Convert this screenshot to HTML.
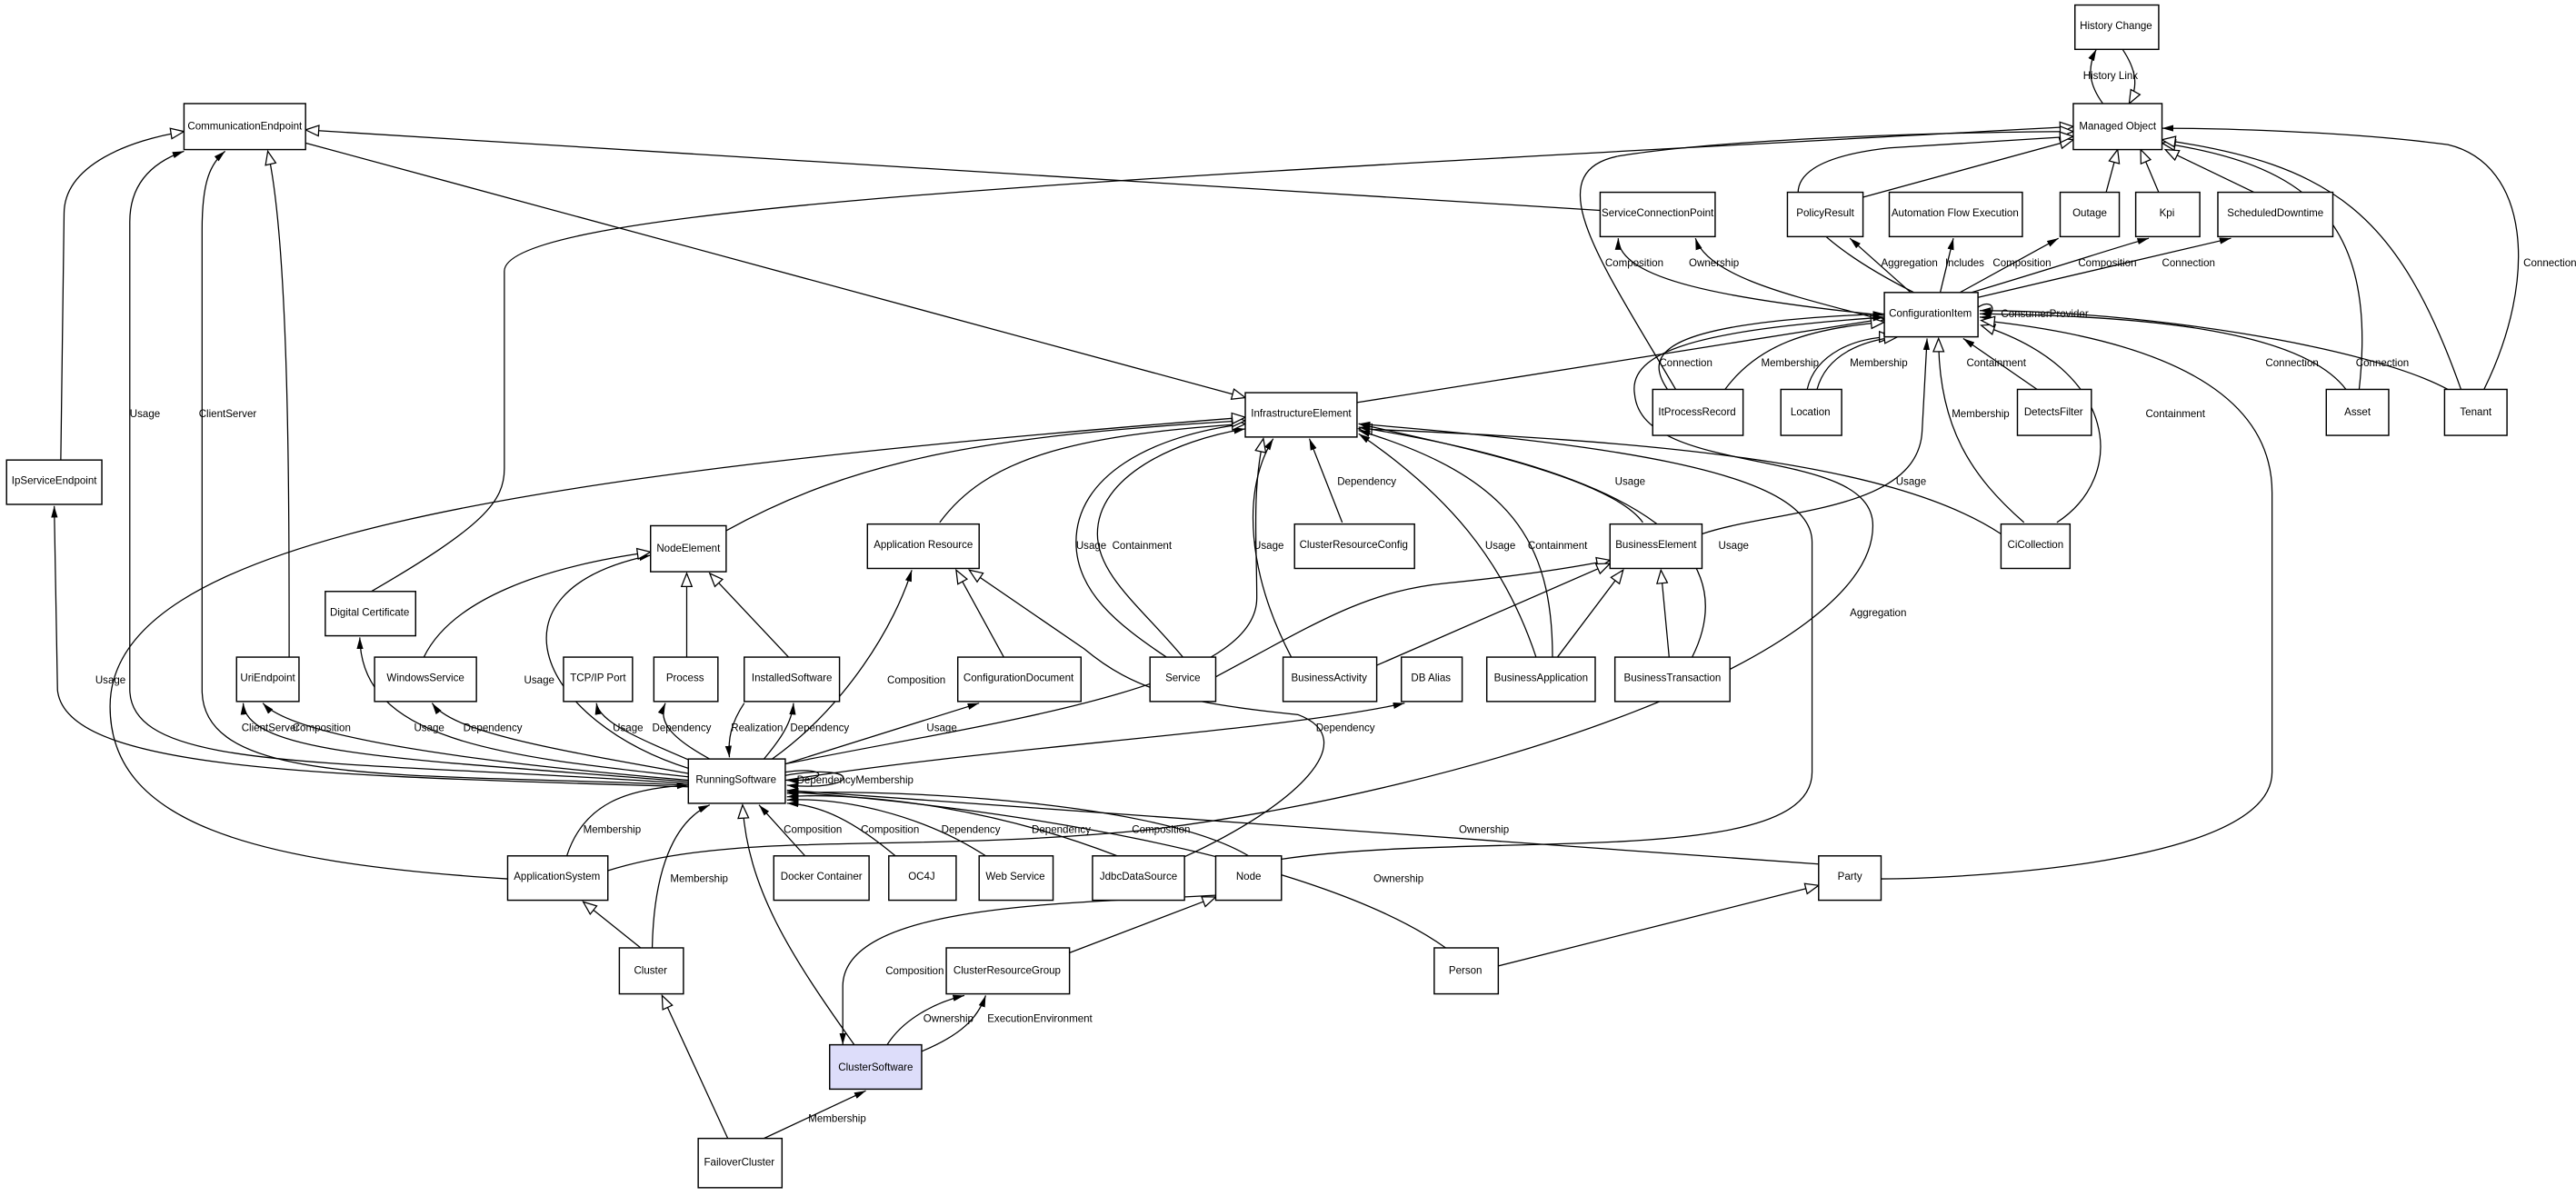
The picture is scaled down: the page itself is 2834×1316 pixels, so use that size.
<!DOCTYPE html>
<html><head><meta charset="utf-8"><style>
html,body{margin:0;padding:0;background:#fff;}
svg{display:block}
text{font-family:"Liberation Sans",Arial,sans-serif;font-size:6.4px;fill:#000}
.n text{text-anchor:middle;dominant-baseline:central}
.e{fill:none;stroke:#000;stroke-width:0.7}
.f{marker-end:url(#fa)}
.h{marker-end:url(#ha)}
</style></head><body>
<svg width="2834" height="1316" viewBox="0 0 1568 728" xmlns="http://www.w3.org/2000/svg">
<defs>
<marker id="fa" markerWidth="8" markerHeight="6" refX="7" refY="3" orient="auto" markerUnits="userSpaceOnUse"><path d="M0,1 L7,3 L0,5 z" fill="#000"/></marker>
<marker id="ha" markerWidth="10" markerHeight="8" refX="8.5" refY="4" orient="auto" markerUnits="userSpaceOnUse"><path d="M0.5,0.8 L8.5,4 L0.5,7.2 z" fill="#fff" stroke="#000" stroke-width="0.7"/></marker>
</defs>
<rect width="1568" height="728" fill="#fff"/>
<g class="e">
<!-- Managed Object region -->
<path class="f" d="M1280,63 C1272,52 1270,42 1276,30"/>
<path class="h" d="M1292,30 C1300,42 1302,52 1296,63"/>
<path class="h" d="M974,128 L186,79"/>
<path class="h" d="M186,87 L758,242"/>
<path class="h" d="M226,360 C295,320 307,305 307,285 L307,165 C307,125 700,108 1262,77"/>
<path class="h" d="M1020,237 C975,160 935,105 985,95 C1050,84 1200,80 1262,80"/>
<path class="h" d="M1134,120 L1262,85"/>
<path class="h" d="M1165,178 C1090,140 1060,100 1150,90 L1262,83"/>
<path class="h" d="M1282,117 L1289,91"/>
<path class="h" d="M1314,117 L1303,91"/>
<path class="h" d="M1372,117 L1318,91"/>
<path class="h" d="M1436,237 C1448,130 1400,100 1316,87"/>
<path class="h" d="M1498,237 C1460,130 1420,100 1316,85"/>
<path class="f" d="M1512,237 C1545,170 1540,100 1490,88 C1430,80 1350,78 1316,78"/>
<!-- CI upward -->
<path class="f" d="M1147,192 C1050,182 985,170 985,145"/>
<path class="f" d="M1147,195 C1100,182 1040,170 1032,145"/>
<path class="f" d="M1163,178 L1126,145"/>
<path class="f" d="M1181,178 L1189,145"/>
<path class="f" d="M1193,178 L1253,145"/>
<path class="f" d="M1200,178 C1260,160 1290,150 1308,145"/>
<path class="f" d="M1204,181 L1358,145"/>
<path class="f" d="M1204,187 C1215,180 1216,194 1205,193"/>
<path class="h" d="M826,245 L1147,194"/>
<!-- into CI from below -->
<path class="f" d="M1015,237 C1000,215 1010,196 1147,191"/>
<path class="h" d="M1050,237 C1070,210 1100,200 1147,196"/>
<path class="h" d="M1100,237 C1105,215 1130,205 1152,205"/>
<path class="h" d="M1106,237 C1112,215 1135,207 1155,205"/>
<path class="f" d="M1240,237 L1195,206"/>
<path class="h" d="M1232,318 C1200,290 1180,260 1180,206"/>
<path class="h" d="M1252,318 C1295,290 1290,225 1206,198"/>
<path class="f" d="M1428,237 C1400,200 1300,192 1205,191"/>
<path class="f" d="M1490,237 C1440,210 1300,189 1205,189"/>
<path class="h" d="M1145,535 C1170,535 1383,530 1383,470 L1383,300 C1383,232 1300,205 1206,195"/>
<path class="f" d="M370,530 C450,505 550,520 700,505 C900,480 1140,400 1140,320 C1140,270 1000,292 995,240 C990,210 1050,200 1147,193"/>
<path class="f" d="M1036,325 C1080,310 1168,312 1170,262 L1173,206"/>
<!-- into IE -->
<path class="f" d="M780,523 C900,505 1103,530 1103,470 L1103,330 C1103,290 1000,272 827,258"/>
<path class="h" d="M1218,325 C1150,280 1000,268 827,261"/>
<path class="f" d="M710,400 C680,380 655,360 655,330 C655,290 700,265 758,258"/>
<path class="f" d="M720,400 C695,370 668,350 668,325 C668,290 715,268 758,261"/>
<path class="f" d="M786,400 C760,350 755,300 775,267"/>
<path class="f" d="M817,318 L797,267"/>
<path class="f" d="M935,400 C915,340 880,300 827,264"/>
<path class="f" d="M945,400 C945,330 920,290 827,262"/>
<path class="f" d="M1000,318 C980,290 880,270 827,258"/>
<path class="f" d="M1030,400 C1060,340 1010,290 827,260"/>
<path class="h" d="M572,318 C600,280 650,265 758,258"/>
<path class="h" d="M442,323 C520,280 600,265 758,256"/>
<path class="h" d="M309,535 C150,525 67,500 67,430 C67,330 300,290 758,254"/>
<path class="h" d="M478,465 C600,440 765,420 765,364 C765,330 762,300 769,267"/>
<!-- business element -->
<path class="h" d="M740,412 C800,380 830,360 880,355 C930,350 960,345 980,341"/>
<path class="h" d="M838,405 L980,343"/>
<path class="h" d="M948,400 L988,347"/>
<path class="h" d="M1016,400 L1011,347"/>
<path class="h" d="M720,522 C790,490 830,450 790,435 C720,428 690,420 660,395 L590,347"/>
<path class="h" d="M611,400 L582,347"/>
<!-- from running software up -->
<path class="f" d="M478,475 C600,455 780,445 855,428"/>
<path class="f" d="M478,465 L596,428"/>
<path class="f" d="M470,462 C515,430 545,380 555,347"/>
<path class="f" d="M465,462 C475,450 482,440 483,428"/>
<path class="f" d="M453,428 C445,440 443,450 444,461"/>
<path class="f" d="M432,462 C410,450 400,440 405,428"/>
<path class="f" d="M425,465 C390,450 365,440 363,428"/>
<path class="f" d="M420,468 C330,440 290,360 396,338"/>
<path class="h" d="M480,400 L432,349"/>
<path class="h" d="M418,400 L418,349"/>
<path class="h" d="M258,400 C275,365 330,345 396,336"/>
<path class="f" d="M420,471 C330,455 275,445 263,428"/>
<path class="f" d="M420,473 C300,460 220,450 219,388"/>
<path class="f" d="M420,476 C250,462 150,460 148,428"/>
<path class="f" d="M420,475 C300,465 180,450 160,428"/>
<path class="h" d="M176,400 C176,300 176,150 163,92"/>
<path class="f" d="M420,477 C200,462 80,470 79,420 L79,135 C79,110 95,98 112,92"/>
<path class="f" d="M420,478 C250,470 123,480 123,420 L123,140 C123,110 128,100 137,92"/>
<path class="h" d="M37,280 L39,130 C39,100 80,85 112,80"/>
<path class="f" d="M420,479 C200,472 40,470 35,420 L33,308"/>
<!-- lower -->
<path class="f" d="M345,521 C355,490 380,480 419,478"/>
<path class="f" d="M397,577 C398,530 410,500 432,490"/>
<path class="h" d="M390,577 L355,549"/>
<path class="h" d="M443,693 L403,606"/>
<path class="f" d="M465,693 L527,664"/>
<path class="h" d="M520,636 C480,580 455,540 452,490"/>
<path class="f" d="M540,636 C550,620 570,610 587,606"/>
<path class="f" d="M561,640 C585,630 595,620 600,606"/>
<path class="f" d="M740,545 C650,550 514,550 513,600 L513,636"/>
<path class="h" d="M651,580 L740,546"/>
<path class="f" d="M490,521 L462,490"/>
<path class="f" d="M545,521 C520,500 500,490 479,489"/>
<path class="f" d="M600,521 C560,495 510,485 479,487"/>
<path class="f" d="M680,521 C600,490 520,482 479,485"/>
<path class="f" d="M760,521 C700,485 520,480 479,483"/>
<path class="f" d="M1107,526 L479,481"/>
<path class="f" d="M880,577 C800,520 600,490 479,482"/>
<path class="h" d="M912,588 L1107,539"/>
<path class="f" d="M478,470 C505,466 505,476 479,475"/>
<path class="f" d="M478,472 C525,464 525,482 479,478"/>
</g>
<g class="n" fill="#fff" stroke="#000" stroke-width="0.8">
<rect x="1263" y="3" width="51" height="27"/>
<rect x="1262" y="63" width="54" height="28"/>
<rect x="112" y="63" width="74" height="28"/>
<rect x="974" y="117" width="70" height="27"/>
<rect x="1088" y="117" width="46" height="27"/>
<rect x="1150" y="117" width="81" height="27"/>
<rect x="1254" y="117" width="36" height="27"/>
<rect x="1300" y="117" width="39" height="27"/>
<rect x="1350" y="117" width="70" height="27"/>
<rect x="1147" y="178" width="57" height="27"/>
<rect x="758" y="239" width="68" height="27"/>
<rect x="1006" y="237" width="55" height="28"/>
<rect x="1084" y="237" width="37" height="28"/>
<rect x="1228" y="237" width="45" height="28"/>
<rect x="1416" y="237" width="38" height="28"/>
<rect x="1488" y="237" width="38" height="28"/>
<rect x="4" y="280" width="58" height="27"/>
<rect x="396" y="320" width="46" height="28"/>
<rect x="528" y="319" width="68" height="27"/>
<rect x="788" y="319" width="73" height="27"/>
<rect x="980" y="319" width="56" height="27"/>
<rect x="1218" y="319" width="42" height="27"/>
<rect x="198" y="360" width="55" height="27"/>
<rect x="144" y="400" width="38" height="27"/>
<rect x="228" y="400" width="62" height="27"/>
<rect x="343" y="400" width="42" height="27"/>
<rect x="398" y="400" width="39" height="27"/>
<rect x="453" y="400" width="58" height="27"/>
<rect x="583" y="400" width="75" height="27"/>
<rect x="700" y="400" width="40" height="27"/>
<rect x="781" y="400" width="57" height="27"/>
<rect x="853" y="400" width="37" height="27"/>
<rect x="905" y="400" width="66" height="27"/>
<rect x="983" y="400" width="70" height="27"/>
<rect x="419" y="462" width="59" height="27"/>
<rect x="309" y="521" width="61" height="27"/>
<rect x="471" y="521" width="58" height="27"/>
<rect x="541" y="521" width="41" height="27"/>
<rect x="596" y="521" width="45" height="27"/>
<rect x="665" y="521" width="56" height="27"/>
<rect x="740" y="521" width="40" height="27"/>
<rect x="1107" y="521" width="38" height="27"/>
<rect x="377" y="577" width="39" height="28"/>
<rect x="576" y="577" width="75" height="28"/>
<rect x="873" y="577" width="39" height="28"/>
<rect x="505" y="636" width="56" height="27" fill="#ddddfa"/>
<rect x="425" y="693" width="51" height="30"/>
</g>
<g class="n">
<text x="1288" y="16">History Change</text>
<text x="1289" y="77">Managed Object</text>
<text x="149" y="77">CommunicationEndpoint</text>
<text x="1009" y="130">ServiceConnectionPoint</text>
<text x="1111" y="130">PolicyResult</text>
<text x="1190" y="130">Automation Flow Execution</text>
<text x="1272" y="130">Outage</text>
<text x="1319" y="130">Kpi</text>
<text x="1385" y="130">ScheduledDowntime</text>
<text x="1175" y="191">ConfigurationItem</text>
<text x="792" y="252">InfrastructureElement</text>
<text x="1033" y="251">ItProcessRecord</text>
<text x="1102" y="251">Location</text>
<text x="1250" y="251">DetectsFilter</text>
<text x="1435" y="251">Asset</text>
<text x="1507" y="251">Tenant</text>
<text x="33" y="293">IpServiceEndpoint</text>
<text x="419" y="334">NodeElement</text>
<text x="562" y="332">Application Resource</text>
<text x="824" y="332">ClusterResourceConfig</text>
<text x="1008" y="332">BusinessElement</text>
<text x="1239" y="332">CiCollection</text>
<text x="225" y="373">Digital Certificate</text>
<text x="163" y="413">UriEndpoint</text>
<text x="259" y="413">WindowsService</text>
<text x="364" y="413">TCP/IP Port</text>
<text x="417" y="413">Process</text>
<text x="482" y="413">InstalledSoftware</text>
<text x="620" y="413">ConfigurationDocument</text>
<text x="720" y="413">Service</text>
<text x="809" y="413">BusinessActivity</text>
<text x="871" y="413">DB Alias</text>
<text x="938" y="413">BusinessApplication</text>
<text x="1018" y="413">BusinessTransaction</text>
<text x="448" y="475">RunningSoftware</text>
<text x="339" y="534">ApplicationSystem</text>
<text x="500" y="534">Docker Container</text>
<text x="561" y="534">OC4J</text>
<text x="618" y="534">Web Service</text>
<text x="693" y="534">JdbcDataSource</text>
<text x="760" y="534">Node</text>
<text x="1126" y="534">Party</text>
<text x="396" y="591">Cluster</text>
<text x="613" y="591">ClusterResourceGroup</text>
<text x="892" y="591">Person</text>
<text x="533" y="650">ClusterSoftware</text>
<text x="450" y="708">FailoverCluster</text>
</g>
<g>
<text x="1268" y="48">History Link</text>
<text x="977" y="162">Composition</text>
<text x="1028" y="162">Ownership</text>
<text x="1145" y="162">Aggregation</text>
<text x="1184" y="162">Includes</text>
<text x="1213" y="162">Composition</text>
<text x="1265" y="162">Composition</text>
<text x="1316" y="162">Connection</text>
<text x="1536" y="162">Connection</text>
<text x="1218" y="193">ConsumerProvider</text>
<text x="1010" y="223">Connection</text>
<text x="1072" y="223">Membership</text>
<text x="1126" y="223">Membership</text>
<text x="1197" y="223">Containment</text>
<text x="1379" y="223">Connection</text>
<text x="1434" y="223">Connection</text>
<text x="79" y="254">Usage</text>
<text x="121" y="254">ClientServer</text>
<text x="1188" y="254">Membership</text>
<text x="1306" y="254">Containment</text>
<text x="814" y="295">Dependency</text>
<text x="983" y="295">Usage</text>
<text x="1154" y="295">Usage</text>
<text x="655" y="334">Usage</text>
<text x="677" y="334">Containment</text>
<text x="763" y="334">Usage</text>
<text x="904" y="334">Usage</text>
<text x="930" y="334">Containment</text>
<text x="1046" y="334">Usage</text>
<text x="1126" y="375">Aggregation</text>
<text x="58" y="416">Usage</text>
<text x="319" y="416">Usage</text>
<text x="540" y="416">Composition</text>
<text x="147" y="445">ClientServer</text>
<text x="178" y="445">Composition</text>
<text x="252" y="445">Usage</text>
<text x="282" y="445">Dependency</text>
<text x="373" y="445">Usage</text>
<text x="397" y="445">Dependency</text>
<text x="445" y="445">Realization</text>
<text x="481" y="445">Dependency</text>
<text x="564" y="445">Usage</text>
<text x="801" y="445">Dependency</text>
<text x="485" y="477">DependencyMembership</text>
<text x="355" y="507">Membership</text>
<text x="477" y="507">Composition</text>
<text x="524" y="507">Composition</text>
<text x="573" y="507">Dependency</text>
<text x="628" y="507">Dependency</text>
<text x="689" y="507">Composition</text>
<text x="888" y="507">Ownership</text>
<text x="408" y="537">Membership</text>
<text x="836" y="537">Ownership</text>
<text x="539" y="593">Composition</text>
<text x="562" y="622">Ownership</text>
<text x="601" y="622">ExecutionEnvironment</text>
<text x="492" y="683">Membership</text>
</g>
</svg>
</body></html>
